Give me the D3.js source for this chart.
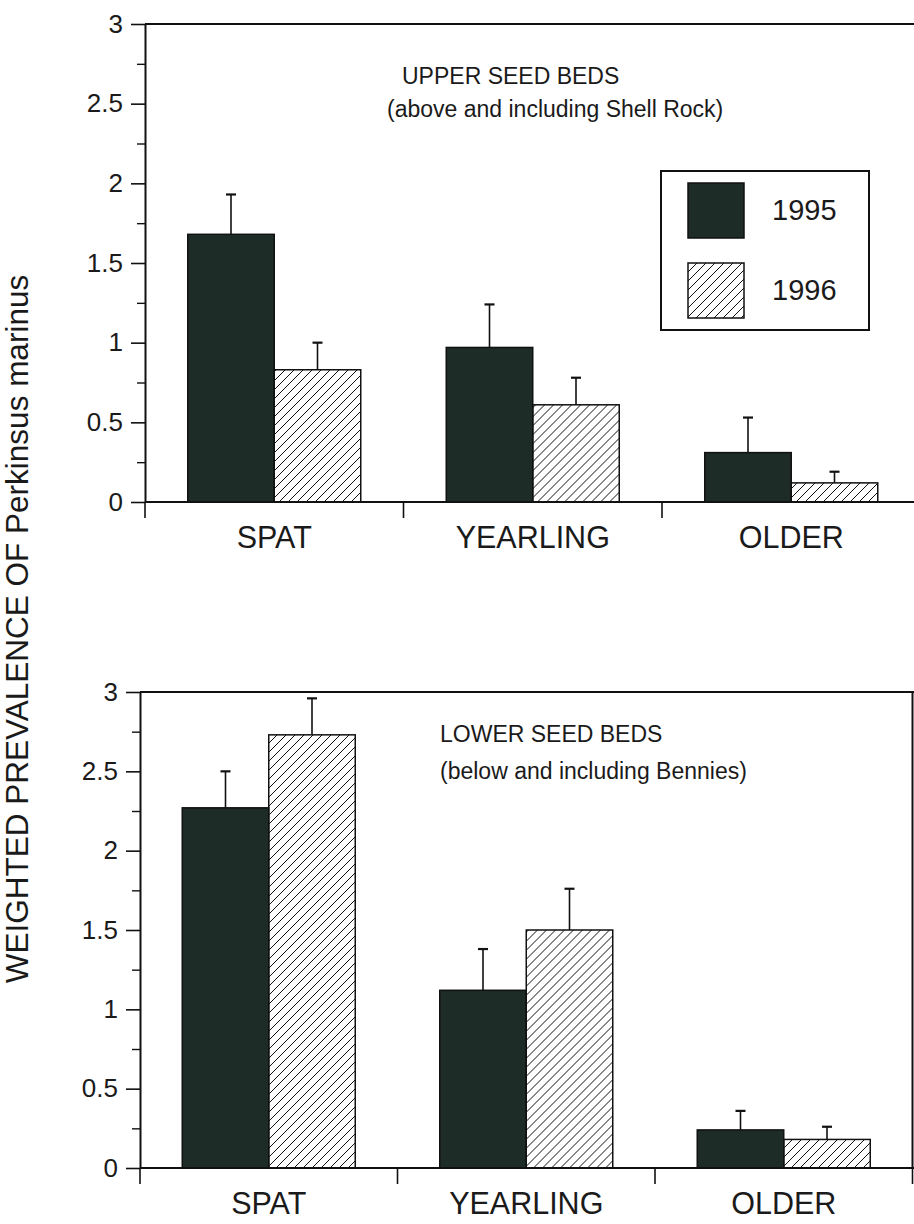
<!DOCTYPE html>
<html>
<head>
<meta charset="utf-8">
<script src="https://cdn.jsdelivr.net/npm/d3@7"></script>
<style>
  body { margin: 0; background: #fff; }
  svg text { font-family: "Liberation Sans", Arial, sans-serif; fill: #1a1a1a; }
</style>
</head>
<body>
<div id="chart"></div>
<script>
// data
var categories = ["SPAT", "YEARLING", "OLDER"];
var years = ["1995", "1996"];

var upper1995 = [1.68, 0.97, 0.31];
var upper1995Se = [0.25, 0.27, 0.22];
var upper1996 = [0.83, 0.61, 0.12];
var upper1996Se = [0.17, 0.17, 0.07];

var lower1995 = [2.27, 1.12, 0.24];
var lower1995Se = [0.23, 0.26, 0.12];
var lower1996 = [2.73, 1.50, 0.18];
var lower1996Se = [0.23, 0.26, 0.08];

var yTicks = [0, 0.5, 1, 1.5, 2, 2.5, 3];
var yMinor = [0.25, 0.75, 1.25, 1.75, 2.25, 2.75];

var svgWidth = 914;
var svgHeight = 1224;
var darkFill = "#1e2c27";

var svg = d3.select("#chart")
  .append("svg")
  .attr("width", svgWidth)
  .attr("height", svgHeight);

// hatch for 1996 bars
svg.append("defs")
  .append("pattern")
  .attr("id", "hatch")
  .attr("patternUnits", "userSpaceOnUse")
  .attr("width", 9)
  .attr("height", 9)
  .append("path")
  .attr("d", "M-1,1 l2,-2 M0,9 l9,-9 M8,10 l2,-2")
  .attr("stroke", "#111")
  .attr("stroke-width", 1);

function drawPanel(p) {
  var g = svg.append("g")
    .attr("transform", `translate(${p.left}, ${p.top})`);

  var x0 = d3.scaleBand()
    .domain(categories)
    .range([0, p.bandW * 3]);

  var x1 = d3.scaleBand()
    .domain(years)
    .range([p.bandW / 2 - p.barW, p.bandW / 2 + p.barW]);

  var y = d3.scaleLinear()
    .domain([0, 3])
    .range([p.height, 0]);

  var rows = categories.map(function(c, i) {
    return [
      {cat: c, year: "1995", v: p.v95[i], se: p.se95[i]},
      {cat: c, year: "1996", v: p.v96[i], se: p.se96[i]}
    ];
  });

  var groups = g.selectAll(".grp")
    .data(rows)
    .enter()
    .append("g")
    .attr("transform", d => `translate(${x0(d[0].cat)}, 0)`);

  var bars = groups.selectAll(".bar")
    .data(d => d)
    .enter();

  // error bars (upper half only)
  bars.append("line")
    .attr("x1", d => x1(d.year) + x1.bandwidth() / 2)
    .attr("x2", d => x1(d.year) + x1.bandwidth() / 2)
    .attr("y1", d => y(d.v))
    .attr("y2", d => y(d.v + d.se))
    .attr("stroke", "#111")
    .attr("stroke-width", 1.6);

  bars.append("line")
    .attr("x1", d => x1(d.year) + x1.bandwidth() / 2 - 5)
    .attr("x2", d => x1(d.year) + x1.bandwidth() / 2 + 5)
    .attr("y1", d => y(d.v + d.se))
    .attr("y2", d => y(d.v + d.se))
    .attr("stroke", "#111")
    .attr("stroke-width", 2.2);

  bars.append("rect")
    .attr("x", d => x1(d.year))
    .attr("y", d => y(d.v))
    .attr("width", x1.bandwidth())
    .attr("height", d => p.height - y(d.v))
    .attr("fill", d => d.year === "1995" ? darkFill : "url(#hatch)")
    .attr("stroke", "#111")
    .attr("stroke-width", 1.5);

  // y axis, major and minor ticks
  var leftAxis = d3.axisLeft(y)
    .tickValues(yTicks)
    .tickSize(14)
    .tickSizeOuter(0)
    .tickPadding(8)
    .tickFormat(d3.format(""));

  var yAxis = g.append("g").call(leftAxis);
  yAxis.select(".domain").attr("stroke-width", 2).attr("stroke", "#111");
  yAxis.selectAll(".tick line").attr("stroke-width", 1.6).attr("stroke", "#111");
  yAxis.selectAll(".tick text")
    .style("font-size", "26px")
    .style("font-family", "Liberation Sans, Arial, sans-serif")
    .attr("fill", "#1a1a1a");

  var minorAxis = d3.axisLeft(y)
    .tickValues(yMinor)
    .tickSize(8)
    .tickFormat("");
  var yMin = g.append("g").call(minorAxis);
  yMin.select(".domain").remove();
  yMin.selectAll(".tick line").attr("stroke-width", 1.4).attr("stroke", "#111");

  // top frame line
  g.append("line")
    .attr("x1", 0)
    .attr("x2", svgWidth)
    .attr("y1", 0)
    .attr("y2", 0)
    .attr("stroke", "#111")
    .attr("stroke-width", 2);

  // x axis with separator ticks between categories
  g.append("line")
    .attr("x1", 0)
    .attr("x2", svgWidth)
    .attr("y1", p.height)
    .attr("y2", p.height)
    .attr("stroke", "#111")
    .attr("stroke-width", 2);

  var seps = categories.map(c => x0(c)).concat([x0.range()[1]]);
  g.selectAll(".sep")
    .data(seps)
    .enter()
    .append("line")
    .attr("x1", d => d)
    .attr("x2", d => d)
    .attr("y1", p.height)
    .attr("y2", p.height + 16)
    .attr("stroke", "#111")
    .attr("stroke-width", 1.6);

  // right frame edge
  g.append("line")
    .attr("x1", x0.range()[1])
    .attr("x2", x0.range()[1])
    .attr("y1", 0)
    .attr("y2", p.height)
    .attr("stroke", "#111")
    .attr("stroke-width", 2);

  var bottomAxis = d3.axisBottom(x0)
    .tickSize(0)
    .tickPadding(24);
  var xAxis = g.append("g")
    .attr("transform", `translate(0, ${p.height})`)
    .call(bottomAxis);
  xAxis.select(".domain").remove();
  xAxis.selectAll(".tick text")
    .style("font-size", "30.5px")
    .style("font-family", "Liberation Sans, Arial, sans-serif")
    .attr("fill", "#1a1a1a");

  // panel title
  g.append("text")
    .attr("x", p.titleX)
    .attr("y", p.titleY)
    .style("font-size", "23px")
    .text(p.title);
  g.append("text")
    .attr("x", p.subX)
    .attr("y", p.subY)
    .style("font-size", "23px")
    .text(p.sub);

  return g;
}

drawPanel({
  left: 145, top: 24, height: 478, bandW: 258.5, barW: 86.5,
  v95: upper1995, se95: upper1995Se, v96: upper1996, se96: upper1996Se,
  title: "UPPER SEED BEDS", titleX: 257, titleY: 60,
  sub: "(above and including Shell Rock)", subX: 242, subY: 93
});

drawPanel({
  left: 140, top: 692, height: 476, bandW: 257.5, barW: 86.5,
  v95: lower1995, se95: lower1995Se, v96: lower1996, se96: lower1996Se,
  title: "LOWER SEED BEDS", titleX: 300, titleY: 50,
  sub: "(below and including Bennies)", subX: 300, subY: 87
});

// legend
var legend = svg.append("g");
legend.append("rect")
  .attr("x", 661)
  .attr("y", 171)
  .attr("width", 208)
  .attr("height", 159)
  .attr("fill", "#fff")
  .attr("stroke", "#111")
  .attr("stroke-width", 2);

var legendRows = legend.selectAll(".lrow")
  .data(years)
  .enter()
  .append("g")
  .attr("transform", (d, i) => `translate(688, ${183 + i * 80})`);

legendRows.append("rect")
  .attr("width", 56)
  .attr("height", 55)
  .attr("fill", d => d === "1995" ? darkFill : "url(#hatch)")
  .attr("stroke", "#111")
  .attr("stroke-width", 1.5);

legendRows.append("text")
  .attr("x", 84)
  .attr("y", 37)
  .style("font-size", "29px")
  .text(d => d);

// shared y label
svg.append("text")
  .attr("transform", "rotate(-90)")
  .attr("x", -629)
  .attr("y", 28)
  .attr("text-anchor", "middle")
  .style("font-size", "31.5px")
  .text("WEIGHTED PREVALENCE OF Perkinsus marinus");
</script>
</body>
</html>
